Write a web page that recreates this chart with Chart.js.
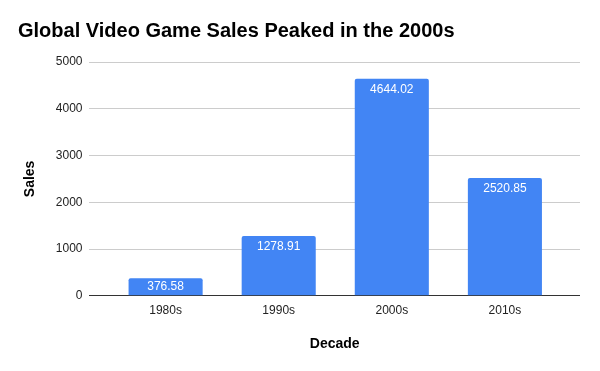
<!DOCTYPE html>
<html>
<head>
<meta charset="utf-8">
<script src="https://cdn.jsdelivr.net/npm/chart.js@4.4.0/dist/chart.umd.min.js"></script>
<style>
  html, body { margin: 0; padding: 0; background: #fff; }
  #wrap { width: 600px; height: 371px; }
</style>
</head>
<body>
<div id="wrap"><canvas id="chart" width="600" height="371"></canvas></div>
<script>
const decades = ['1980s', '1990s', '2000s', '2010s'];
const sales = [376.58, 1278.91, 4644.02, 2520.85];
const yTicks = [0, 1000, 2000, 3000, 4000, 5000];

const FONT = 'Arial, "Liberation Sans", sans-serif';

// white value labels just inside the top of each bar
const barLabels = {
  id: 'barLabels',
  afterDatasetsDraw(chart) {
    const c = chart.ctx;
    const meta = chart.getDatasetMeta(0);
    c.save();
    c.fillStyle = '#ffffff';
    c.font = '12px ' + FONT;
    c.textAlign = 'center';
    c.textBaseline = 'middle';
    meta.data.forEach((bar, i) => {
      const h = bar.base - bar.y;
      const off = Math.min(11, h / 2);
      c.fillText(sales[i].toFixed(2), bar.x, bar.y + off);
    });
    c.restore();
  }
};

new Chart(document.getElementById('chart'), {
  type: 'bar',
  data: {
    datasets: [{
      data: sales.map((v, i) => ({ x: i, y: v })),
      backgroundColor: '#4285f4',
      borderRadius: { topLeft: 2, topRight: 2 },
      borderSkipped: 'bottom',
      barPercentage: 0.655,
      categoryPercentage: 1
    }]
  },
  options: {
    responsive: false,
    animation: false,
    layout: { padding: { left: 18, right: 20, top: 0, bottom: 14 } },
    plugins: {
      legend: { display: false },
      tooltip: { enabled: false },
      title: {
        display: true,
        text: 'Global Video Game Sales Peaked in the 2000s',
        align: 'start',
        color: '#000',
        font: { family: FONT, size: 20, weight: 'bold' },
        padding: { top: 19, bottom: 19 }
      }
    },
    scales: {
      x: {
        type: 'linear',
        offset: false,
        min: -0.673,
        max: 3.664,
        grid: { display: false, offset: false },
        border: { display: false },
        ticks: {
          includeBounds: false,
          stepSize: 1,
          autoSkip: false,
          maxRotation: 0,
          color: '#222',
          font: { family: FONT, size: 12 },
          padding: 0,
          callback: v => decades[v] ?? ''
        },
        title: {
          display: true,
          text: 'Decade',
          color: '#000',
          font: { family: FONT, size: 14, weight: 'bold' },
          padding: { top: 18 }
        }
      },
      y: {
        min: 0,
        max: 5000,
        afterBuildTicks: axis => { axis.ticks = yTicks.map(v => ({ value: v })); },
        border: { display: false },
        grid: {
          color: ctx => ctx.tick && ctx.tick.value === 0 ? '#333' : '#cccccc',
          drawTicks: false
        },
        ticks: {
          color: '#222',
          font: { family: FONT, size: 12 },
          padding: 7,
          callback: v => String(v)
        },
        title: {
          display: true,
          text: 'Sales',
          color: '#000',
          font: { family: FONT, size: 14, weight: 'bold' },
          padding: { bottom: 10 }
        }
      }
    }
  },
  plugins: [barLabels]
});
</script>
</body>
</html>
